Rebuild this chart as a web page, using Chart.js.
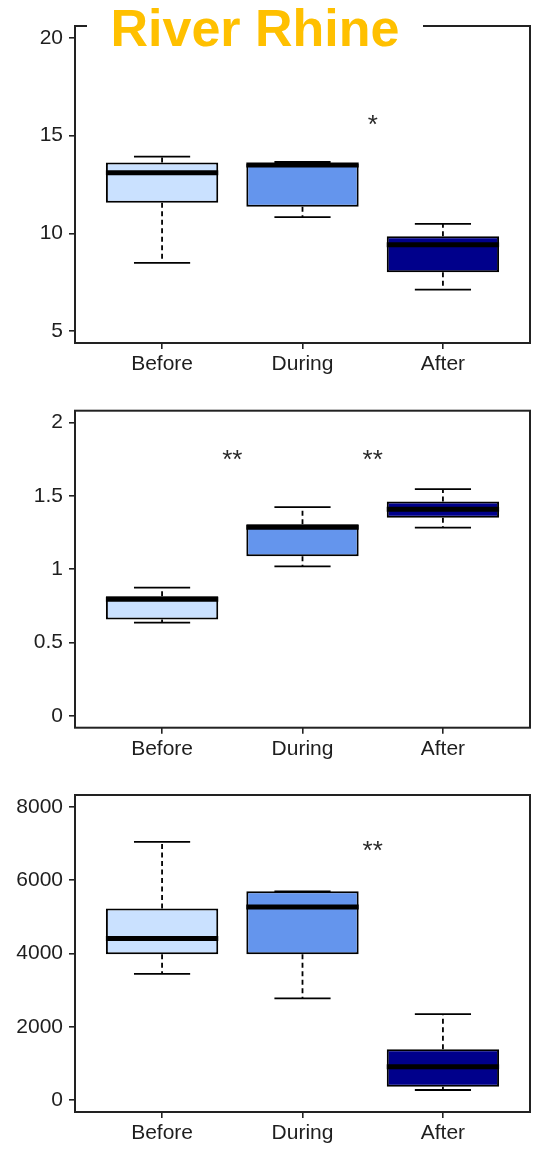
<!DOCTYPE html>
<html><head><meta charset="utf-8">
<script src="https://cdn.jsdelivr.net/npm/chart.js@4.4.1/dist/chart.umd.min.js"></script>
<style>
html,body{margin:0;padding:0;background:#fff;}
body{width:538px;height:1152px;position:relative;overflow:hidden;font-family:"Liberation Sans",Arial,sans-serif;}
.panel{position:absolute;left:0;width:538px;}
#title{position:absolute;left:87px;top:0;width:336px;height:50px;background:#fff;z-index:5;
  color:#FFC000;font:bold 52px "Liberation Sans",Arial,sans-serif;text-align:center;line-height:56px;white-space:nowrap;}
</style></head>
<body>
<div id="title">River Rhine</div>
<div class="panel" style="top:0;height:385px"><canvas id="c1" width="538" height="385"></canvas></div>
<div class="panel" style="top:385px;height:385px"><canvas id="c2" width="538" height="385"></canvas></div>
<div class="panel" style="top:770px;height:382px"><canvas id="c3" width="538" height="382"></canvas></div>
<script>
// ---- data ----
const categories = ['Before', 'During', 'After'];

const p1Min = [8.49, 10.83, 7.13];
const p1Q1  = [11.57, 11.36, 8.01];
const p1Med = [13.10, 13.50, 9.42];
const p1Q3  = [13.63, 13.55, 9.86];
const p1Max = [13.92, 13.65, 10.49];
const p1Ticks = [5, 10, 15, 20];
const p1StarX = [2.5];
const p1StarY = [15.8];
const p1StarText = ['*'];

const p2Min = [0.636, 1.019, 1.283];
const p2Q1  = [0.658, 1.089, 1.351];
const p2Med = [0.796, 1.285, 1.409];
const p2Q3  = [0.816, 1.306, 1.461];
const p2Max = [0.875, 1.423, 1.545];
const p2Ticks = [0, 0.5, 1, 1.5, 2];
const p2StarX = [1.5, 2.5];
const p2StarY = [1.78, 1.78];
const p2StarText = ['**', '**'];

const p3Min = [3444, 2775, 280];
const p3Q1  = [3977, 3977, 371];
const p3Med = [4411, 5270, 913];
const p3Q3  = [5225, 5695, 1392];
const p3Max = [7042, 5695, 2350];
const p3Ticks = [0, 2000, 4000, 6000, 8000];
const p3StarX = [2.5];
const p3StarY = [6942];
const p3StarText = ['**'];

// ---- styling ----
const boxColors = ['#CAE1FF', '#6495ED', '#00008B'];
const FONT = '"Liberation Sans", Arial, sans-serif';
const INK = '#1e1e1e';

const boxPlugin = {
  id: 'boxExtras',
  afterDatasetsDraw(chart) {
    const o = chart.options.plugins.boxExtras;
    const xs = chart.scales.x, ys = chart.scales.y;
    const ctx = chart.ctx;
    const meta = chart.getDatasetMeta(0);
    ctx.save();
    ctx.strokeStyle = '#000';
    for (let i = 0; i < o.med.length; i++) {
      const bar = meta.data[i];
      const cx = xs.getPixelForValue(i + 1);
      const capL = xs.getPixelForValue(i + 1 - 0.2);
      const capR = xs.getPixelForValue(i + 1 + 0.2);
      const yMin = ys.getPixelForValue(o.min[i]);
      const yMax = ys.getPixelForValue(o.max[i]);
      const yQ1 = ys.getPixelForValue(o.q1[i]);
      const yQ3 = ys.getPixelForValue(o.q3[i]);
      const yMed = ys.getPixelForValue(o.med[i]);
      ctx.lineWidth = 1.8;
      ctx.setLineDash([5, 3.5]);
      ctx.beginPath();
      ctx.moveTo(cx, yQ3); ctx.lineTo(cx, yMax);
      ctx.moveTo(cx, yQ1); ctx.lineTo(cx, yMin);
      ctx.stroke();
      ctx.setLineDash([]);
      ctx.beginPath();
      ctx.moveTo(capL, yMax); ctx.lineTo(capR, yMax);
      ctx.moveTo(capL, yMin); ctx.lineTo(capR, yMin);
      ctx.stroke();
      const half = bar.width / 2;
      ctx.lineWidth = 5;
      ctx.beginPath();
      ctx.moveTo(bar.x - half, yMed); ctx.lineTo(bar.x + half, yMed);
      ctx.stroke();
    }
    ctx.fillStyle = '#2a2a2a';
    ctx.font = '26px ' + FONT;
    ctx.textAlign = 'center';
    ctx.textBaseline = 'alphabetic';
    for (let k = 0; k < o.starX.length; k++) {
      const t = o.starText[k];
      const m = ctx.measureText(t);
      const px = xs.getPixelForValue(o.starX[k]);
      const py = ys.getPixelForValue(o.starY[k]);
      const off = (m.actualBoundingBoxAscent - m.actualBoundingBoxDescent) / 2;
      ctx.fillText(t, px, py + off);
    }
    const a = chart.chartArea;
    ctx.strokeStyle = '#222';
    ctx.lineWidth = 2;
    ctx.strokeRect(a.left, a.top, a.right - a.left, a.bottom - a.top);
    ctx.restore();
  }
};

function makePanel(id, top, q1, med, q3, mn, mx, yTicks, yMin, yMax, starX, starY, starText) {
  const canvas = document.getElementById(id);
  const H = canvas.height;
  const PLOT_H = 317;
  return new Chart(canvas, {
    type: 'bar',
    data: {
      datasets: [{
        data: categories.map((c, i) => ({ x: i + 1, y: [q1[i], q3[i]] })),
        backgroundColor: boxColors,
        borderColor: '#000',
        borderWidth: 2,
        borderSkipped: false,
        barPercentage: 0.8,
        categoryPercentage: 1.0
      }]
    },
    options: {
      responsive: false,
      animation: false,
      events: [],
      layout: { padding: { left: 0, right: 8, top: top, bottom: 0 } },
      plugins: {
        legend: { display: false },
        tooltip: { enabled: false },
        title: { display: false },
        boxExtras: { q1, med, q3, min: mn, max: mx, starX, starY, starText }
      },
      scales: {
        x: {
          type: 'linear',
          offset: false,
          min: 0.38, max: 3.62,
          afterBuildTicks: s => { s.ticks = categories.map((c, i) => ({ value: i + 1 })); },
          afterFit: s => { s.height = H - top - PLOT_H; },
          border: { display: false },
          grid: { display: true, offset: false, drawOnChartArea: false, drawTicks: true, tickLength: 6, color: '#222', lineWidth: 1.6 },
          ticks: {
            padding: 3,
            color: INK,
            font: { family: FONT, size: 21 },
            callback: v => categories[Math.round(v) - 1] || ''
          }
        },
        y: {
          type: 'linear',
          min: yMin, max: yMax,
          afterBuildTicks: s => { s.ticks = yTicks.map(v => ({ value: v })); },
          afterFit: s => { s.width = 75; },
          border: { display: false },
          grid: { display: true, drawOnChartArea: false, drawTicks: true, tickLength: 6, color: '#222', lineWidth: 1.6 },
          ticks: {
            padding: 6,
            color: INK,
            font: { family: FONT, size: 21 },
            callback: v => String(v)
          }
        }
      }
    },
    plugins: [boxPlugin]
  });
}

makePanel('c1', 26, p1Q1, p1Med, p1Q3, p1Min, p1Max, p1Ticks, 4.4, 20.6, p1StarX, p1StarY, p1StarText);
makePanel('c2', 25.7, p2Q1, p2Med, p2Q3, p2Min, p2Max, p2Ticks, -0.08, 2.08, p2StarX, p2StarY, p2StarText);
makePanel('c3', 25, p3Q1, p3Med, p3Q3, p3Min, p3Max, p3Ticks, -320, 8320, p3StarX, p3StarY, p3StarText);
</script>
</body></html>
